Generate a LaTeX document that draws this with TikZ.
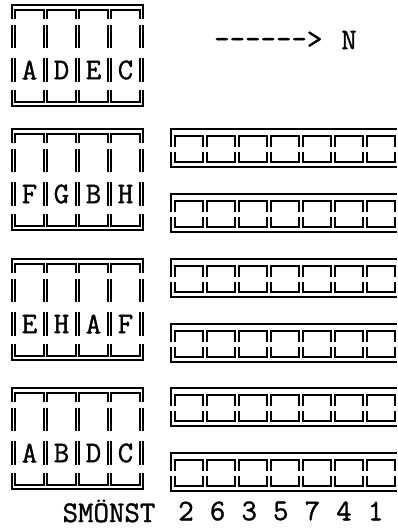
\documentclass[tikz,border=0pt]{standalone}
\usepackage{fontspec}
\newfontfamily\twfont[FakeBold=1.2]{Latin Modern Mono}
\tikzset{
  frame/.style={line width=1.5pt,line cap=butt,line join=miter},
  lbl/.style={font=\twfont\fontsize{30}{30}\selectfont, inner sep=0pt},
}
\newcommand\dblock[6]{%
  \begin{scope}[shift={(0,#2)}]
    \draw[frame] (12,14) -- (12,0) -- (143,0) -- (143,14);
    \foreach \a/\b in {20/43,53/77} {
      \draw[frame] (12,\a) -- (12,\b);
      \draw[frame] (143,\a) -- (143,\b);
    }
    \draw[frame] (12,85) -- (12,101) -- (143,101) -- (143,85);
    \foreach \i in {0,...,3} {
      \pgfmathsetmacro\xl{15+32*\i}
      \pgfmathsetmacro\xr{44+32*\i}
      \draw[frame] (\xl,14) -- (\xl,5) -- (\xr,5) -- (\xr,14);
      \foreach \a/\b in {20/43,53/77} {
        \draw[frame] (\xl,\a) -- (\xl,\b);
        \draw[frame] (\xr,\a) -- (\xr,\b);
      }
      \draw[frame] (\xl,85) -- (\xl,97) -- (\xr,97) -- (\xr,85);
    }
    \node[lbl] (#1a) at (29.5,65) {#3};
    \node[lbl] (#1b) at (61.5,65) {#4};
    \node[lbl] (#1c) at (93.5,65) {#5};
    \node[lbl] (#1d) at (125.5,65) {#6};
  \end{scope}}
\newcommand\dstrip[1]{%
  \begin{scope}[shift={(0,#1)}]
    \draw[frame] (171,18) -- (171,0) -- (397,0);
    \draw[frame] (171,23) -- (171,38) -- (397,38);
    \foreach \j in {0,...,6} {
      \pgfmathsetmacro\xl{175+32*\j}
      \pgfmathsetmacro\xr{203+32*\j}
      \draw[frame] (\xl,18) -- (\xl,7) -- (\xr,7) -- (\xr,18);
      \draw[frame] (\xl,23) -- (\xl,33) -- (\xr,33) -- (\xr,23);
    }
  \end{scope}}
\begin{document}
\begin{tikzpicture}[x=1pt,y=-1pt]
\useasboundingbox (0,0) rectangle (397,530);
\fill[white] (0,0) rectangle (397,530);
\dblock{p}{5}{A}{D}{E}{C}
\dblock{q}{129}{F}{G}{B}{H}
\dblock{r}{259}{E}{H}{A}{F}
\dblock{s}{388}{A}{B}{D}{C}
\dstrip{129}
\dstrip{194}
\dstrip{259}
\dstrip{324}
\dstrip{388}
\dstrip{453}
\node[lbl,anchor=west] (arrow) at (214,40) {-{}-{}-{}-{}-{}->};
\node[lbl] (N) at (349,40) {N};
\node[lbl] (smonst) at (109,511) {SMÖNST};
\foreach \j/\t in {0/2,1/6,2/3,3/5,4/7,5/4,6/1} {
  \node[lbl] (d\j) at (186+31.6*\j,511) {\t};
}
\end{tikzpicture}
\end{document}
